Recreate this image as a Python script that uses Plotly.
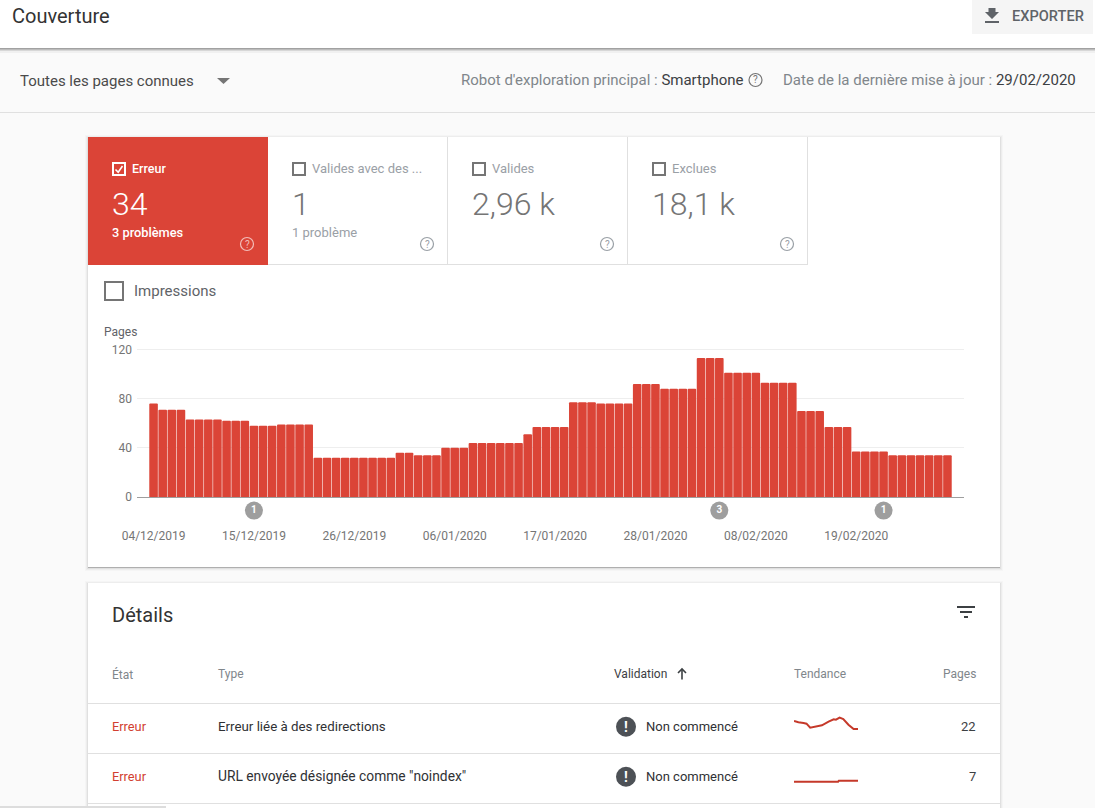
import pandas as pd
import plotly.graph_objects as go

W, H = 1095, 808

# Données du graphique principal
dates = pd.date_range('2019-12-04', '2020-02-29', freq='D')
erreurs = [
    76, 71, 71, 71, 63, 63, 63, 63, 62, 62, 62, 58, 58, 58, 59, 59, 59, 59,
    32, 32, 32, 32, 32, 32, 32, 32, 32, 36, 36, 34, 34, 34, 40, 40, 40,
    44, 44, 44, 44, 44, 44, 51, 57, 57, 57, 57, 77, 77, 77, 76, 76, 76, 76,
    92, 92, 92, 88, 88, 88, 88, 113, 113, 113, 101, 101, 101, 101,
    93, 93, 93, 93, 70, 70, 70, 57, 57, 57, 37, 37, 37, 37,
    34, 34, 34, 34, 34, 34, 34,
]
dates_ticks = ['2019-12-04', '2019-12-15', '2019-12-26', '2020-01-06',
               '2020-01-17', '2020-01-28', '2020-02-08', '2020-02-19']
annot_dates = ['2019-12-15', '2020-02-04', '2020-02-22']
annot_nb = ['1', '3', '1']

# Tendances du tableau
tendance_jours_1 = [0, 6, 13, 17, 22, 29, 38, 47, 54, 57, 62, 67, 74, 81, 87]
tendance_1 = [34, 32, 31, 30, 24, 25.5, 27.5, 33, 36.5, 36, 39, 37, 28.5, 22, 22]
tendance_jours_2 = [0, 60, 61, 87]
tendance_2 = [6, 6, 7, 7]

ROUGE = '#db4437'
GRIS_TEXTE = '#80868b'
GRIS_FONCE = '#757575'
NOIR = '#3c4043'
LIGNE = '#e0e0e0'
POLICE = 'Roboto'


def px(x):
    return x / W


def py(y):
    return 1 - y / H


shapes = []
annotations = []


def rect(x0, y0, x1, y1, couleur, ligne=None, largeur=1):
    shapes.append(dict(type='rect', xref='paper', yref='paper', layer='below',
                       x0=px(x0), x1=px(x1), y0=py(y0), y1=py(y1), fillcolor=couleur,
                       line=dict(color=ligne, width=largeur) if ligne else dict(width=0)))


def rond(cx, cy, r, couleur=None, ligne=None, largeur=1.2):
    shapes.append(dict(type='circle', xref='paper', yref='paper', layer='below',
                       x0=px(cx - r), x1=px(cx + r), y0=py(cy - r), y1=py(cy + r),
                       fillcolor=couleur if couleur else 'rgba(0,0,0,0)',
                       line=dict(color=ligne, width=largeur) if ligne else dict(width=0)))


def chemin(points, couleur=None, ligne=None, largeur=1.5):
    d = ''
    for i, (x, y) in enumerate(points):
        d += ('M' if i == 0 else 'L') + f'{px(x):.5f},{py(y):.5f} '
    if couleur:
        d += 'Z'
    shapes.append(dict(type='path', xref='paper', yref='paper', layer='below', path=d,
                       fillcolor=couleur if couleur else 'rgba(0,0,0,0)',
                       line=dict(color=ligne, width=largeur) if ligne else dict(width=0)))


def texte(x, y, t, taille=13, couleur=NOIR, ancre='left', poids=400):
    annotations.append(dict(x=px(x), y=py(y), xref='paper', yref='paper', text=t, showarrow=False,
                            xanchor=ancre, yanchor='middle', borderpad=0, borderwidth=0, align=ancre,
                            font=dict(family=POLICE, size=taille, color=couleur, weight=poids)))


def ombre_carte(x0, y0, x1, y1):
    for i, a in enumerate([0.02, 0.03, 0.05, 0.22]):
        e = 3 - i
        rect(x0 - e, y0 - e + 1, x1 + e, y1 + e + 1, f'rgba(0,0,0,{a})')


def case(x, y, taille, couleur, largeur=2):
    shapes.append(dict(type='rect', xref='paper', yref='paper', layer='below',
                       x0=px(x), x1=px(x + taille), y0=py(y), y1=py(y + taille),
                       fillcolor='rgba(0,0,0,0)', line=dict(color=couleur, width=largeur)))


def aide(cx, cy, couleur):
    rond(cx, cy, 6.5, ligne=couleur)
    texte(cx, cy, '?', 10, couleur, 'center')


# En-tête
rect(0, 48, W, 53, 'rgba(0,0,0,0.04)')
rect(0, 48, W, 51, 'rgba(0,0,0,0.10)')
rect(0, 48, W, 49.5, 'rgba(0,0,0,0.25)')
rect(0, 0, W, 48, '#ffffff')
rect(972, 0, 1093, 34, '#f5f5f5')
chemin([(988.5, 8), (995.5, 8), (995.5, 12), (999, 12), (992, 19), (985, 12), (988.5, 12)], '#5f6368')
rect(985, 21, 999, 23, '#5f6368')
texte(12, 16, 'Couverture', 20, '#333333')
texte(1012, 16, 'EXPORTER', 14.6, '#5f6368', poids=500)

# Barre de filtres
texte(20, 81, 'Toutes les pages connues', 15, '#4a4a4a')
chemin([(217, 78), (230, 78), (223.5, 84)], GRIS_FONCE)
texte(461, 80, "Robot d'exploration principal : <span style='color:#3c4043'>Smartphone</span>", 15, GRIS_TEXTE)
aide(755.5, 80, GRIS_FONCE)
texte(1076, 80, "Date de la dernière mise à jour : <span style='color:#3c4043'>29/02/2020</span>", 15, GRIS_TEXTE, 'right')
rect(0, 112, W, 113, LIGNE)

# Cartes
ombre_carte(88, 137, 1000, 567)
rect(88, 137, 1000, 567, '#ffffff')
ombre_carte(88, 583, 1000, 812)
rect(88, 583, 1000, 812, '#ffffff')

# Tuiles
rect(88, 137, 268, 265, ROUGE)
rect(268, 264, 807.5, 265, LIGNE)
for x in [447, 627, 807]:
    rect(x, 137, x + 1, 265, LIGNE)

case(113, 163, 12, '#ffffff')
chemin([(115.5, 169.5), (118.2, 172.2), (122.5, 166)], ligne='#ffffff', largeur=1.6)
texte(132, 169, 'Erreur', 12.5, '#ffffff', poids=500)
texte(112, 204, '34', 32, '#ffffff', poids=300)
texte(112, 232, '3 problèmes', 12.8, '#ffffff', poids=500)
aide(247, 244, 'rgba(255,255,255,0.65)')

GRIS_TUILE = '#9aa0a6'
case(293, 163, 12, GRIS_FONCE)
texte(312, 169, 'Valides avec des ...', 13, GRIS_TUILE)
texte(292, 204, '1', 32, GRIS_FONCE, poids=300)
texte(292, 232, '1 problème', 13, GRIS_TUILE)
aide(427, 244, GRIS_TUILE)

case(473, 163, 12, GRIS_FONCE)
texte(492, 169, 'Valides', 13, GRIS_TUILE)
texte(472, 204, '2,96 k', 32, GRIS_FONCE, poids=300)
aide(607, 244, GRIS_TUILE)

case(653, 163, 12, GRIS_FONCE)
texte(672, 169, 'Exclues', 13, GRIS_TUILE)
texte(652, 204, '18,1 k', 32, GRIS_FONCE, poids=300)
aide(787, 244, GRIS_TUILE)

case(105, 282, 18, GRIS_FONCE)
texte(134, 291, 'Impressions', 15, '#5f6368')
texte(104, 332, 'Pages', 12, '#5f6368')

# Tableau des détails
texte(112, 615, 'Détails', 20, '#333333')
rect(957, 606, 975, 608, NOIR)
rect(960, 611, 972, 613, NOIR)
rect(964, 616, 968, 618, NOIR)
texte(112, 674, 'État', 12, GRIS_TEXTE)
texte(218, 674, 'Type', 12, GRIS_TEXTE)
texte(614, 674, 'Validation', 12, NOIR)
chemin([(682, 679.5), (682, 669)], ligne=NOIR, largeur=1.6)
chemin([(678, 673), (682, 669), (686, 673)], ligne=NOIR, largeur=1.6)
texte(794, 674, 'Tendance', 12, GRIS_TEXTE)
texte(976, 674, 'Pages', 12, GRIS_TEXTE, 'right')
for y in [703, 753, 803]:
    rect(88, y, 1000, y + 1, LIGNE)

lignes = [(726, 'Erreur liée à des redirections', 13.3, '22'),
          (776, 'URL envoyée désignée comme "noindex"', 13.8, '7')]
for y, libelle, taille, nb in lignes:
    texte(112, y, 'Erreur', 12.8, '#d23f31')
    texte(218, y, libelle, taille, '#2f3134')
    rond(626, y + 0.7, 10, '#4d5156')
    texte(626, y + 0.7, '!', 14, '#ffffff', 'center', 700)
    texte(646, y, 'Non commencé', 13, '#2f3134')
    texte(976, y, nb, 13, NOIR, 'right')

# Barre de défilement en bas à gauche
rect(0, 806, 166, 808, '#dddddd')

fig = go.Figure()

fig.add_trace(go.Bar(x=dates, y=erreurs, marker=dict(color=ROUGE, cornerradius=1, line=dict(width=0)),
                     width=86400000 * 0.94, hoverinfo='skip'))
fig.add_trace(go.Scatter(x=annot_dates, y=[-11] * len(annot_dates), mode='markers+text', text=annot_nb,
                         textposition='middle center', hoverinfo='skip',
                         marker=dict(size=18, color='#9e9e9e'),
                         textfont=dict(family=POLICE, size=10, color='#ffffff', weight=700)))
fig.add_trace(go.Scatter(x=tendance_jours_1, y=tendance_1, mode='lines', xaxis='x2', yaxis='y2',
                         line=dict(color='#c5392a', width=2), hoverinfo='skip'))
fig.add_trace(go.Scatter(x=tendance_jours_2, y=tendance_2, mode='lines', xaxis='x3', yaxis='y3',
                         line=dict(color='#c5392a', width=2), hoverinfo='skip'))

fig.update_layout(
    width=W, height=H,
    margin=dict(l=0, r=0, t=0, b=0, autoexpand=False),
    paper_bgcolor='#fafafa',
    plot_bgcolor='rgba(0,0,0,0)',
    showlegend=False,
    shapes=shapes,
    annotations=annotations,
    font=dict(family=POLICE),
    xaxis=dict(type='date', domain=[px(137), px(964)], range=['2019-12-02 04:26', '2020-03-01 19:34'],
               tickmode='array', tickvals=dates_ticks, tickformat='%d/%m/%Y', showgrid=False,
               showline=False, ticks='', zeroline=False,
               tickfont=dict(family=POLICE, size=12, color=GRIS_FONCE)),
    # l'axe descend sous zéro pour garder les pastilles d'annotation
    yaxis=dict(domain=[py(526.5), py(347.04)], range=[-24, 122], tickvals=[0, 40, 80, 120],
               gridcolor='#eeeeee', gridwidth=1, zeroline=True, zerolinecolor='#9e9e9e', zerolinewidth=1,
               ticks='', ticklabelstandoff=4, tickfont=dict(family=POLICE, size=12, color=GRIS_FONCE)),
    xaxis2=dict(domain=[px(794), px(858)], range=[0, 87], visible=False, anchor='y2'),
    yaxis2=dict(domain=[py(735), py(715)], range=[13, 43], visible=False, anchor='x2'),
    xaxis3=dict(domain=[px(794), px(858)], range=[0, 87], visible=False, anchor='y3'),
    yaxis3=dict(domain=[py(792), py(772)], range=[-4.3, 15.7], visible=False, anchor='x3'),
)

fig.write_html('out.html', config={'displayModeBar': False},
               post_script="document.body.style.margin='0';document.documentElement.style.overflow='hidden';")
